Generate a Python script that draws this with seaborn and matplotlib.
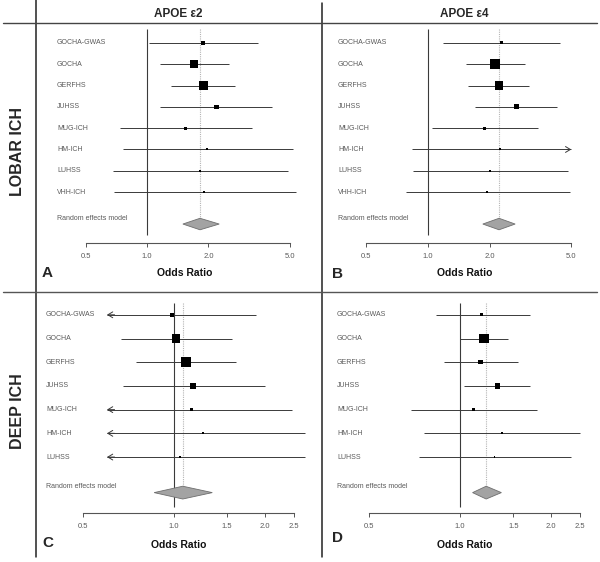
"""
Forest plots of APOE e2 / e4 and lobar / deep ICH, 2x2 panel figure.
"""

import numpy as np
import pandas as pd
import matplotlib.pyplot as plt
from matplotlib.lines import Line2D
from matplotlib import ticker, transforms
import seaborn as sns

# ---- data (odds ratios) ----
lobar_studies = ['GOCHA-GWAS', 'GOCHA', 'GERFHS', 'JUHSS', 'MUG-ICH', 'HM-ICH', 'LUHSS', 'VHH-ICH']
deep_studies = ['GOCHA-GWAS', 'GOCHA', 'GERFHS', 'JUHSS', 'MUG-ICH', 'HM-ICH', 'LUHSS']

# A: lobar ICH, APOE e2
a_or = [1.89, 1.70, 1.89, 2.19, 1.54, 1.97, 1.82, 1.91]
a_lo = [1.02, 1.16, 1.31, 1.16, 0.74, 0.76, 0.68, 0.69]
a_hi = [3.52, 2.51, 2.71, 4.08, 3.29, 5.18, 4.94, 5.35]
a_w = [6.6, 33.0, 47.8, 7.7, 3.5, 0.5, 0.5, 0.5]
a_sum = (1.82, 1.50, 2.26)

# B: lobar ICH, APOE e4
b_or = [2.27, 2.12, 2.22, 2.69, 1.88, 2.24, 2.00, 1.94]
b_lo = [1.18, 1.53, 1.57, 1.70, 1.05, 0.83, 0.84, 0.78]
b_hi = [4.40, 2.97, 3.11, 4.26, 3.44, 6.80, 4.82, 4.93]
b_w = [3.2, 46.0, 34.0, 11.8, 3.7, 0.5, 0.5, 0.3]
b_sum = (2.22, 1.85, 2.66)

# C: deep ICH, APOE e2
c_or = [0.985, 1.015, 1.096, 1.156, 1.14, 1.25, 1.05]
c_lo = [0.45, 0.668, 0.748, 0.678, 0.42, 0.40, 0.38]
c_hi = [1.87, 1.56, 1.60, 2.00, 2.46, 2.71, 2.71]
c_w = [6.6, 33.0, 45.0, 12.0, 2.5, 0.5, 0.5]
c_sum = (1.07, 0.86, 1.34)

# D: deep ICH, APOE e4
d_or = [1.18, 1.20, 1.17, 1.33, 1.11, 1.38, 1.30]
d_lo = [0.83, 1.00, 0.885, 1.03, 0.69, 0.76, 0.73]
d_hi = [1.71, 1.44, 1.56, 1.71, 1.80, 2.50, 2.33]
d_w = [5.7, 60.0, 11.8, 17.8, 3.4, 0.6, 0.6]
d_sum = (1.22, 1.10, 1.37)

lobar_ticks = [0.5, 1.0, 2.0, 5.0]
deep_ticks = [0.5, 1.0, 1.5, 2.0, 2.5]

W, H = 600, 562
LINE = '#3a3a3a'
TEXT = '#5a5a5a'

sns.set_style("white")
plt.rcParams['font.family'] = ['Liberation Sans', 'DejaVu Sans']


def px_box(l, t, r, b):
    return [l / W, 1 - b / H, (r - l) / W, (b - t) / H]


def add_arrow(ax, x_tip, x_tail, y):
    ax.annotate('', xy=(x_tip, y), xytext=(x_tail, y),
                arrowprops=dict(arrowstyle='->,head_length=0.5,head_width=0.3',
                                color=LINE, lw=0.7, mutation_scale=7,
                                shrinkA=0, shrinkB=0))


def forest(ax, names, est, lo, hi, w, summ, ticks, xlim, ylim, ref_span,
           label_x, xlab_x, xlab_y, clip_lo=None, clip_hi=None):
    n = len(names)
    rows = np.arange(1, n + 1)
    sum_row = n + 1.5
    df = pd.DataFrame({'study': names, 'or': est, 'lo': lo, 'hi': hi,
                       'weight': w, 'row': rows})

    ax.set_xscale('log')
    ax.set_xlim(*xlim)
    ax.set_ylim(*ylim)
    ax.patch.set_alpha(0)

    # reference line at 1 and dotted line at the pooled estimate
    ax.vlines(1.0, ref_span[0], ref_span[1], color=LINE, lw=0.8, zorder=1)
    ax.vlines(summ[0], ref_span[0], sum_row, color='#b5b5b5', lw=0.8,
              linestyles=(0, (1, 1)), zorder=1)

    # confidence intervals (clipped with arrows where they leave the range)
    for _, r in df.iterrows():
        x0 = r['lo'] if clip_lo is None else max(r['lo'], clip_lo)
        x1 = r['hi'] if clip_hi is None else min(r['hi'], clip_hi)
        ax.hlines(r['row'], x0, x1, color=LINE, lw=0.7, zorder=2)
        if clip_lo is not None and r['lo'] < clip_lo:
            add_arrow(ax, x0, x0 * 1.06, r['row'])
        if clip_hi is not None and r['hi'] > clip_hi:
            add_arrow(ax, x1, x1 / 1.06, r['row'])

    # study boxes, area proportional to weight
    sns.scatterplot(data=df, x='or', y='row', size='weight', sizes=(1.5, 48),
                    size_norm=(0, max(w)), marker='s', color='black',
                    linewidth=0, legend=False, ax=ax, zorder=3)

    # pooled estimate diamond
    e, l, h = summ
    dh = 0.27
    ax.fill([l, e, h, e], [sum_row, sum_row - dh, sum_row, sum_row + dh],
            facecolor='#a3a3a3', edgecolor='#6e6e6e', lw=0.6, zorder=3)

    # study labels
    blend = transforms.blended_transform_factory(ax.transAxes, ax.transData)
    for name, row in zip(names, rows):
        ax.text(label_x, row, name, transform=blend, ha='left', va='center',
                fontsize=5, color=TEXT)
    ax.text(label_x, sum_row - 0.25, 'Random effects model', transform=blend,
            ha='left', va='center', fontsize=5, color=TEXT)

    # axis
    for side in ['left', 'right', 'top']:
        ax.spines[side].set_visible(False)
    ax.spines['bottom'].set_color('#555555')
    ax.spines['bottom'].set_linewidth(0.8)
    ax.spines['bottom'].set_bounds(ticks[0], ticks[-1])
    ax.set_yticks([])
    ax.xaxis.set_major_locator(ticker.FixedLocator(ticks))
    ax.xaxis.set_major_formatter(ticker.FixedFormatter([f'{t:.1f}' for t in ticks]))
    ax.xaxis.set_minor_locator(ticker.NullLocator())
    ax.tick_params(axis='x', length=3, width=0.7, color='#555555',
                   labelsize=5.5, labelcolor=TEXT, pad=4.5, bottom=True)
    ax.set_xlabel('Odds Ratio', fontsize=7.5, fontweight='bold', color='#111111')
    ax.xaxis.set_label_coords(xlab_x, xlab_y)
    ax.set_ylabel('')


fig = plt.figure(figsize=(W / 100, H / 100), dpi=100)

ax_a = fig.add_axes(px_box(37, 24, 321, 243))
forest(ax_a, lobar_studies, a_or, a_lo, a_hi, a_w, a_sum, lobar_ticks,
       (0.289, 7.13), (10.39, 0.11), (0.34, 10.0), 0.070, 0.519, -0.115)

ax_b = fig.add_axes(px_box(323, 24, 598, 243))
forest(ax_b, lobar_studies, b_or, b_lo, b_hi, b_w, b_sum, lobar_ticks,
       (0.307, 6.75), (10.39, 0.11), (0.34, 10.0), 0.055, 0.516, -0.115,
       clip_hi=5.0)

ax_c = fig.add_axes(px_box(37, 293, 321, 513))
forest(ax_c, deep_studies, c_or, c_lo, c_hi, c_w, c_sum, deep_ticks,
       (0.352, 3.07), (9.36, 0.08), (0.5, 9.1), 0.032, 0.5, -0.125,
       clip_lo=0.6)

ax_d = fig.add_axes(px_box(323, 293, 598, 513))
forest(ax_d, deep_studies, d_or, d_lo, d_hi, d_w, d_sum, deep_ticks,
       (0.352, 2.86), (9.36, 0.08), (0.5, 9.1), 0.051, 0.516, -0.125)


# frame lines of the figure grid
def fig_line(x0, y0, x1, y1, color, lw):
    fig.add_artist(Line2D([x0 / W, x1 / W], [1 - y0 / H, 1 - y1 / H],
                          color=color, lw=lw, transform=fig.transFigure))


fig_line(36, 0, 36, 557, '#222222', 1.1)
fig_line(322, 3, 322, 557, '#222222', 1.1)
fig_line(3, 23, 597, 23, '#444444', 1.0)
fig_line(3, 292, 597, 292, '#555555', 1.0)

# column and row headers
fig.text(178 / W, 1 - 14 / H, 'APOE ε2', ha='center', va='center',
         fontsize=8.5, fontweight='bold')
fig.text(464 / W, 1 - 14 / H, 'APOE ε4', ha='center', va='center',
         fontsize=8.5, fontweight='bold')
fig.text(18 / W, 1 - 151 / H, 'LOBAR ICH', ha='center', va='center',
         rotation=90, fontsize=11.5, fontweight='bold')
fig.text(18 / W, 1 - 411 / H, 'DEEP ICH', ha='center', va='center',
         rotation=90, fontsize=11.5, fontweight='bold')

# panel letters
for letter, x, y in [('A', 42, 273), ('B', 332, 274), ('C', 42, 543), ('D', 332, 538)]:
    fig.text(x / W, 1 - y / H, letter, ha='left', va='center',
             fontsize=11, fontweight='bold')

fig.savefig('out.png', dpi=100)
